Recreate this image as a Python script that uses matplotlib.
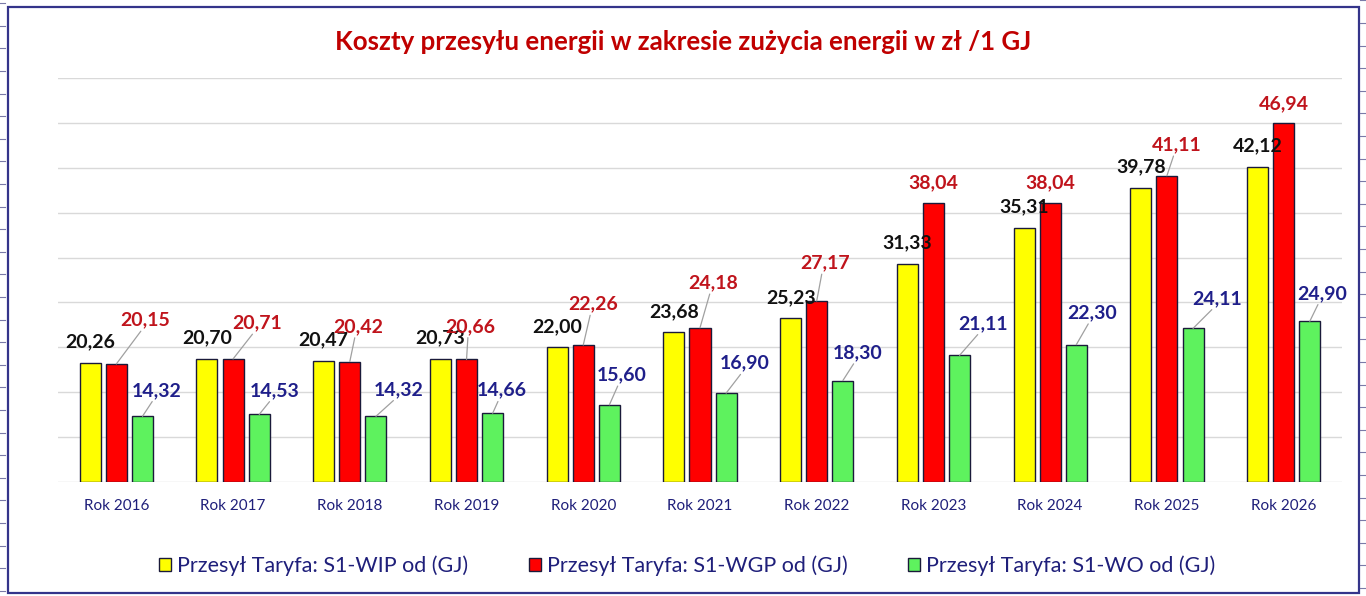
import numpy as np
import matplotlib
matplotlib.use('Agg')
import matplotlib.pyplot as plt
from matplotlib.patches import Patch, Rectangle
from matplotlib.lines import Line2D

plt.rcParams['font.family'] = ['Lato', 'DejaVu Sans']

# data
years = ['Rok 2016', 'Rok 2017', 'Rok 2018', 'Rok 2019', 'Rok 2020', 'Rok 2021',
         'Rok 2022', 'Rok 2023', 'Rok 2024', 'Rok 2025', 'Rok 2026']
wip = [20.26, 20.70, 20.47, 20.73, 22.00, 23.68, 25.23, 31.33, 35.31, 39.78, 42.12]
wgp = [20.15, 20.71, 20.42, 20.66, 22.26, 24.18, 27.17, 38.04, 38.04, 41.11, 46.94]
wo = [14.32, 14.53, 14.32, 14.66, 15.60, 16.90, 18.30, 21.11, 22.30, 24.11, 24.90]
series_names = ['Przesył Taryfa: S1-WIP od (GJ)', 'Przesył Taryfa: S1-WGP od (GJ)',
                'Przesył Taryfa: S1-WO od (GJ)']

# label offsets (pixels from bar top), as placed in the source chart
wip_off = [(0, 21)] * 11
wgp_off = [(29, 44), (24, 36), (8, 35), (4, 33), (10, 41), (13, 45), (8, 38),
           (0, 21), (0, 21), (10, 31), (0, 20)]
wo_off = [(14, 26), (15, 24), (23, 27), (9, 23), (12, 30), (19, 30), (15, 28),
          (23, 32), (16, 32), (24, 30), (12, 28)]
wgp_leader = [True, True, True, True, True, True, True, False, False, True, False]

NAVY = '#1f1f7a'
colors = ['#ffff00', '#ff0000', '#5ef25e']
label_colors = ['#111111', '#c0141c', '#1f1f8a']

fig = plt.figure(figsize=(13.66, 5.96), dpi=100)
fig.patch.set_facecolor('white')
ax = fig.add_axes([58 / 1366, 1 - 482 / 596, (1342 - 58) / 1366, (482 - 78) / 596])

x = np.arange(len(years))
w = 0.18
shift = 0.224
all_vals = [wip, wgp, wo]
all_off = [wip_off, wgp_off, wo_off]
for k, vals in enumerate(all_vals):
    xs = x + (k - 1) * shift
    ax.bar(xs, np.array(vals) - 7, width=w, bottom=7, color=colors[k],
           edgecolor='#1a1a3a', linewidth=1.0, zorder=3)
    for i, v in enumerate(vals):
        dx, dy = all_off[k][i]
        leader = (k == 1 and wgp_leader[i]) or k == 2
        props = None
        if leader:
            props = dict(arrowstyle='-', color='#a0a0a0', lw=0.9,
                         shrinkA=0, shrinkB=0, relpos=(0.45, 0.0))
        ax.annotate(f'{v:.2f}'.replace('.', ','), (xs[i], v),
                    xytext=(dx, dy), textcoords='offset pixels',
                    ha='center', va='center', fontsize=14, fontweight='bold',
                    color=label_colors[k], arrowprops=props, zorder=5)

ax.set_xlim(-0.5, len(years) - 0.5)
ax.set_ylim(7, 52)
ax.set_yticks(np.arange(7, 53, 5))
ax.set_yticklabels([])
ax.tick_params(axis='y', length=0)
ax.grid(axis='y', color='#d9d9d9', linewidth=1.0, zorder=0)
ax.set_axisbelow(True)
ax.set_xticks(x)
ax.set_xticklabels(years, color=NAVY, fontsize=11)
ax.tick_params(axis='x', length=0, pad=12)
for s in ax.spines.values():
    s.set_visible(False)

fig.text(0.5, 1 - 42 / 596, 'Koszty przesyłu energii w zakresie zużycia energii w zł /1 GJ',
         ha='center', va='center', fontsize=18.6, fontweight='bold', color='#c00000')

handles = [Patch(facecolor=c, edgecolor='#1a1a3a', linewidth=1.0) for c in colors]
leg = fig.legend(handles, series_names, loc='center', bbox_to_anchor=(0.503, 1 - 566 / 596),
                 ncol=3, frameon=False, fontsize=15.5, handlelength=0.56, handleheight=0.56,
                 handletextpad=0.28, columnspacing=2.8)
for t in leg.get_texts():
    t.set_color(NAVY)

# outer frame of the chart object
fig.patches.append(Rectangle((8 / 1366, 1 - 593 / 596), 1351 / 1366, 586 / 596,
                             transform=fig.transFigure, fill=False,
                             edgecolor='#34348a', linewidth=1.6))
# small marks of the surrounding sheet on both sides
for yy in np.arange(3.2, 596, 22.6):
    fig.lines.append(Line2D([0, 5 / 1366], [1 - yy / 596] * 2, transform=fig.transFigure,
                            color='#7a7aa8', linewidth=0.8))
for yy in np.arange(0.4, 596, 22.6):
    fig.lines.append(Line2D([1360 / 1366, 1], [1 - yy / 596] * 2, transform=fig.transFigure,
                            color='#7a7aa8', linewidth=0.8))

fig.savefig('out.png', dpi=100, facecolor='white')
